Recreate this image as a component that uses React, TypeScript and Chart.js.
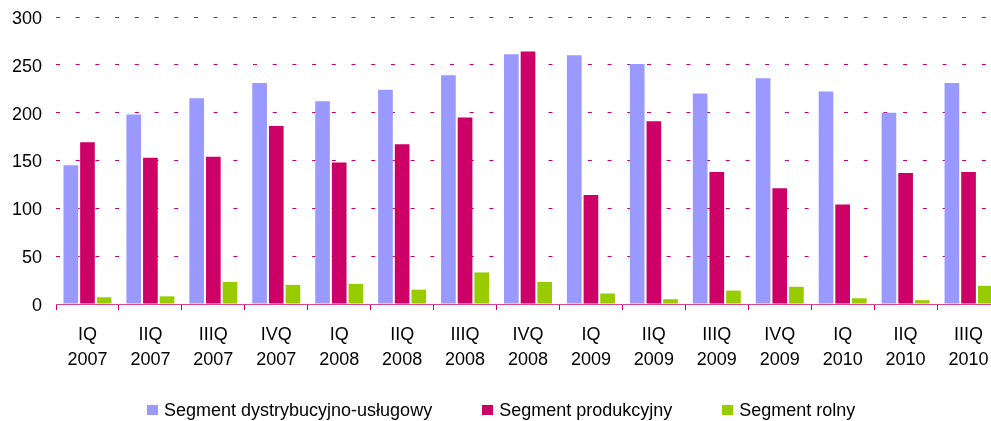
import React, { useEffect, useRef } from 'react';
import { Chart, registerables } from 'chart.js';

Chart.register(...registerables);

const quarters = ['IQ', 'IIQ', 'IIIQ', 'IVQ', 'IQ', 'IIQ', 'IIIQ', 'IVQ', 'IQ', 'IIQ', 'IIIQ', 'IVQ', 'IQ', 'IIQ', 'IIIQ'];
const years = ['2007', '2007', '2007', '2007', '2008', '2008', '2008', '2008', '2009', '2009', '2009', '2009', '2010', '2010', '2010'];

const seriesNames = ['Segment dystrybucyjno-usługowy', 'Segment produkcyjny', 'Segment rolny'];
const distribution = [145, 198, 215, 231, 212, 224, 239, 261, 260, 251, 220, 236, 222, 200, 231];
const production = [169, 153, 154, 186, 148, 167, 195, 264, 114, 191, 138, 121, 104, 137, 138];
const agriculture = [7, 8, 23, 20, 21, 15, 33, 23, 11, 5, 14, 18, 6, 4, 19];
const seriesColors = ['#9999FF', '#CC0066', '#99CC00'];

const yMin = 0;
const yMax = 300;
const yStep = 50;

const FONT = "'Liberation Sans', Arial, sans-serif";

export default function App() {
  const ref = useRef<HTMLCanvasElement>(null);

  useEffect(() => {
    if (!ref.current) return;
    const labels = quarters.map((q, i) => [q, years[i]]);
    const values = [distribution, production, agriculture];
    const chart = new Chart(ref.current, {
      type: 'bar',
      data: {
        labels,
        datasets: values.map((data, i) => ({
          label: seriesNames[i],
          data,
          backgroundColor: seriesColors[i],
          borderWidth: 0,
          categoryPercentage: 0.794,
          barPercentage: 0.88,
        })),
      },
      options: {
        responsive: false,
        animation: false,
        devicePixelRatio: 1,
        layout: { padding: { top: 17, right: 10, bottom: 37, left: 0 } },
        plugins: {
          legend: { display: false },
          tooltip: { enabled: false },
        },
        scales: {
          x: {
            afterFit: (s: any) => { s.height = 80; s.paddingLeft = 0; s.paddingRight = 0; },
            grid: {
              display: true,
              drawOnChartArea: false,
              drawTicks: true,
              tickLength: 6,
              color: '#CC0066',
              lineWidth: 1,
              offset: true,
            },
            border: { display: true, color: '#D9448C', width: 1 },
            ticks: {
              color: '#000',
              padding: 12,
              maxRotation: 0,
              autoSkip: false,
              font: { family: FONT, size: 18, lineHeight: 1.4 },
            },
          },
          y: {
            min: yMin,
            max: yMax,
            afterFit: (s: any) => { s.width = 56; s.paddingTop = 0; s.paddingBottom = 0; },
            grid: {
              color: '#CC0066',
              lineWidth: 1,
              drawTicks: false,
            },
            border: { display: false, dash: [4, 15.7] },
            ticks: {
              stepSize: yStep,
              color: '#000',
              padding: 14,
              labelOffset: 2,
              font: { family: FONT, size: 18 },
            },
          },
        },
      },
    });
    return () => chart.destroy();
  }, []);

  return (
    <div style={{ position: 'fixed', left: 0, top: 0, width: 991, height: 421, overflow: 'hidden', background: '#fff' }}>
      <canvas ref={ref} width={1010} height={421} style={{ position: 'absolute', left: 0, top: 0 }} />
      <div
        style={{
          position: 'absolute',
          left: 147,
          top: 400,
          display: 'flex',
          gap: 50,
          fontFamily: FONT,
          fontSize: 18,
          lineHeight: '20px',
          color: '#000',
          whiteSpace: 'nowrap',
        }}
      >
        {seriesNames.map((name, i) => (
          <div key={name} style={{ display: 'flex', alignItems: 'center' }}>
            <span style={{ display: 'inline-block', width: 11, height: 10, background: seriesColors[i], marginRight: 6 }} />
            <span>{name}</span>
          </div>
        ))}
      </div>
    </div>
  );
}
